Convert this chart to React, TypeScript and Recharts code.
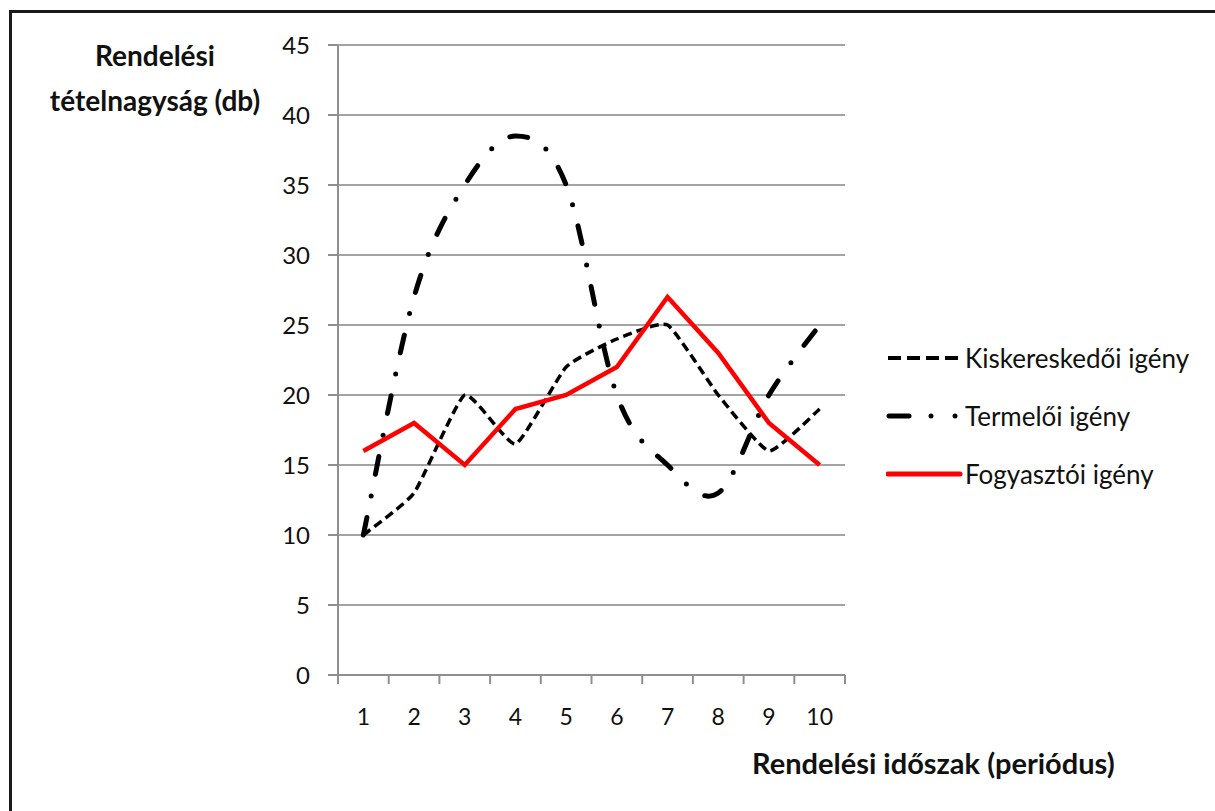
import { LineChart, Line, XAxis, YAxis, CartesianGrid } from "recharts";

// Order-quantity demand per period for three supply-chain levels
const periods = ["1", "2", "3", "4", "5", "6", "7", "8", "9", "10"];
const retailDemand = [10, 13, 20, 16.5, 22, 24, 25, 20, 16, 19];
const producerDemand = [10, 27, 35, 38.5, 35, 20, 15, 13, 20, 25];
const consumerDemand = [16, 18, 15, 19, 20, 22, 27, 23, 18, 15];
const yTicks = [0, 5, 10, 15, 20, 25, 30, 35, 40, 45];

const seriesNames = {
  retail: "Kiskereskedői igény",
  producer: "Termelői igény",
  consumer: "Fogyasztói igény",
};

const data = periods.map((p, i) => ({
  period: p,
  retail: retailDemand[i],
  producer: producerDemand[i],
  consumer: consumerDemand[i],
}));

const W = 1215;
const H = 811;
const PLOT_LEFT = 338;
const PLOT_RIGHT = 845;
const PLOT_TOP = 45;
const PLOT_BOTTOM = 675;
const X_AXIS_H = 40;
const STEP = (PLOT_RIGHT - PLOT_LEFT) / periods.length;

const FONT = "Lato, 'Open Sans', sans-serif";
const AXIS_GREY = "#8f8f8f";

// Smoothed line as cubic Beziers; k scales the tangent length (1 = Catmull-Rom)
const makeSmoothCurve = (k: number) => (context: any) => {
  let pts: number[][] = [];
  const t = k / 6;
  return {
    areaStart() {},
    areaEnd() {},
    lineStart() {
      pts = [];
    },
    point(x: number, y: number) {
      pts.push([+x, +y]);
    },
    lineEnd() {
      if (!pts.length) return;
      context.moveTo(pts[0][0], pts[0][1]);
      for (let i = 0; i < pts.length - 1; i++) {
        const p0 = pts[i - 1] || pts[i];
        const p1 = pts[i];
        const p2 = pts[i + 1];
        const p3 = pts[i + 2] || p2;
        context.bezierCurveTo(
          p1[0] + (p2[0] - p0[0]) * t,
          p1[1] + (p2[1] - p0[1]) * t,
          p2[0] - (p3[0] - p1[0]) * t,
          p2[1] - (p3[1] - p1[1]) * t,
          p2[0],
          p2[1]
        );
      }
    },
  };
};

const retailCurve = makeSmoothCurve(0.45);
const producerCurve = makeSmoothCurve(1);

// Category label centred, tick mark on the category boundary
const PeriodTick = ({ x, payload, index }: any) => {
  const left = x - STEP / 2;
  return (
    <g>
      <line x1={left} y1={PLOT_BOTTOM} x2={left} y2={PLOT_BOTTOM + 9} stroke={AXIS_GREY} strokeWidth={2} />
      {index === periods.length - 1 && (
        <line x1={x + STEP / 2} y1={PLOT_BOTTOM} x2={x + STEP / 2} y2={PLOT_BOTTOM + 9} stroke={AXIS_GREY} strokeWidth={2} />
      )}
      <text x={x} y={PLOT_BOTTOM + 50} textAnchor="middle" fontFamily={FONT} fontSize={23} fill="#111">
        {payload.value}
      </text>
    </g>
  );
};

const LegendSample = ({ kind }: { kind: string }) => {
  if (kind === "retail") {
    return <line x1={2} y1={10} x2={72} y2={10} stroke="#000" strokeWidth={4} strokeDasharray="13 6" />;
  }
  if (kind === "producer") {
    return (
      <g stroke="#000" strokeWidth={5} strokeLinecap="round">
        <line x1={3} y1={10} x2={23} y2={10} />
        <line x1={45} y1={10} x2={45} y2={10} />
        <line x1={69} y1={10} x2={69} y2={10} />
      </g>
    );
  }
  return <line x1={2} y1={10} x2={74} y2={10} stroke="#ff0000" strokeWidth={5} strokeLinecap="round" />;
};

const ChartLegend = () => (
  <div style={{ position: "absolute", left: 886, top: 329, fontFamily: FONT, fontSize: 26, color: "#111" }}>
    {(["retail", "producer", "consumer"] as const).map((k) => (
      <div key={k} style={{ display: "flex", alignItems: "center", height: 58 }}>
        <svg width={78} height={20} style={{ marginRight: 1 }}>
          <LegendSample kind={k} />
        </svg>
        <span>{seriesNames[k]}</span>
      </div>
    ))}
  </div>
);

export default function App() {
  return (
    <div style={{ position: "absolute", left: 0, top: 0, width: W, height: H, background: "#fff", overflow: "hidden" }}>
      <div
        style={{
          position: "absolute",
          left: 9,
          top: 10,
          width: W,
          height: H,
          borderTop: "3px solid #1a1a1a",
          borderLeft: "3px solid #1a1a1a",
        }}
      />
      <LineChart
        width={W}
        height={H}
        data={data}
        margin={{ top: PLOT_TOP, right: W - PLOT_RIGHT, bottom: H - PLOT_BOTTOM - X_AXIS_H, left: 0 }}
        style={{ position: "absolute", left: 0, top: 0 }}
      >
        <CartesianGrid vertical={false} stroke="#a3a3a3" strokeWidth={2} />
        <XAxis
          dataKey="period"
          scale="band"
          height={X_AXIS_H}
          axisLine={{ stroke: AXIS_GREY, strokeWidth: 2 }}
          tickLine={false}
          tick={<PeriodTick />}
          interval={0}
        />
        <YAxis
          width={PLOT_LEFT}
          domain={[0, 45]}
          ticks={yTicks}
          interval={0}
          axisLine={{ stroke: AXIS_GREY, strokeWidth: 2 }}
          tickLine={{ stroke: AXIS_GREY, strokeWidth: 2 }}
          tickSize={10}
          tickMargin={18}
          tick={{ fontFamily: FONT, fontSize: 24, fill: "#111" }}
        />
        <Line
          dataKey="retail"
          name={seriesNames.retail}
          type={retailCurve as any}
          stroke="#000"
          strokeWidth={3.5}
          strokeDasharray="9 5"
          dot={false}
          activeDot={false}
          isAnimationActive={false}
        />
        <Line
          dataKey="producer"
          name={seriesNames.producer}
          type={producerCurve as any}
          stroke="#000"
          strokeWidth={5}
          strokeLinecap="round"
          strokeDasharray="18 22 0 22"
          dot={false}
          activeDot={false}
          isAnimationActive={false}
        />
        <Line
          dataKey="consumer"
          name={seriesNames.consumer}
          type="linear"
          stroke="#ff0000"
          strokeWidth={4.5}
          strokeLinejoin="miter"
          dot={false}
          activeDot={false}
          isAnimationActive={false}
        />
      </LineChart>
      <ChartLegend />
      <div
        style={{
          position: "absolute",
          left: 15,
          top: 33,
          width: 280,
          textAlign: "center",
          fontFamily: FONT,
          fontWeight: 700,
          fontSize: 28,
          lineHeight: "45px",
          color: "#111",
        }}
      >
        Rendelési
        <br />
        tételnagyság (db)
      </div>
      <div
        style={{
          position: "absolute",
          left: 752,
          top: 745,
          fontFamily: FONT,
          fontWeight: 700,
          fontSize: 29,
          color: "#111",
          whiteSpace: "nowrap",
        }}
      >
        Rendelési időszak (periódus)
      </div>
    </div>
  );
}
